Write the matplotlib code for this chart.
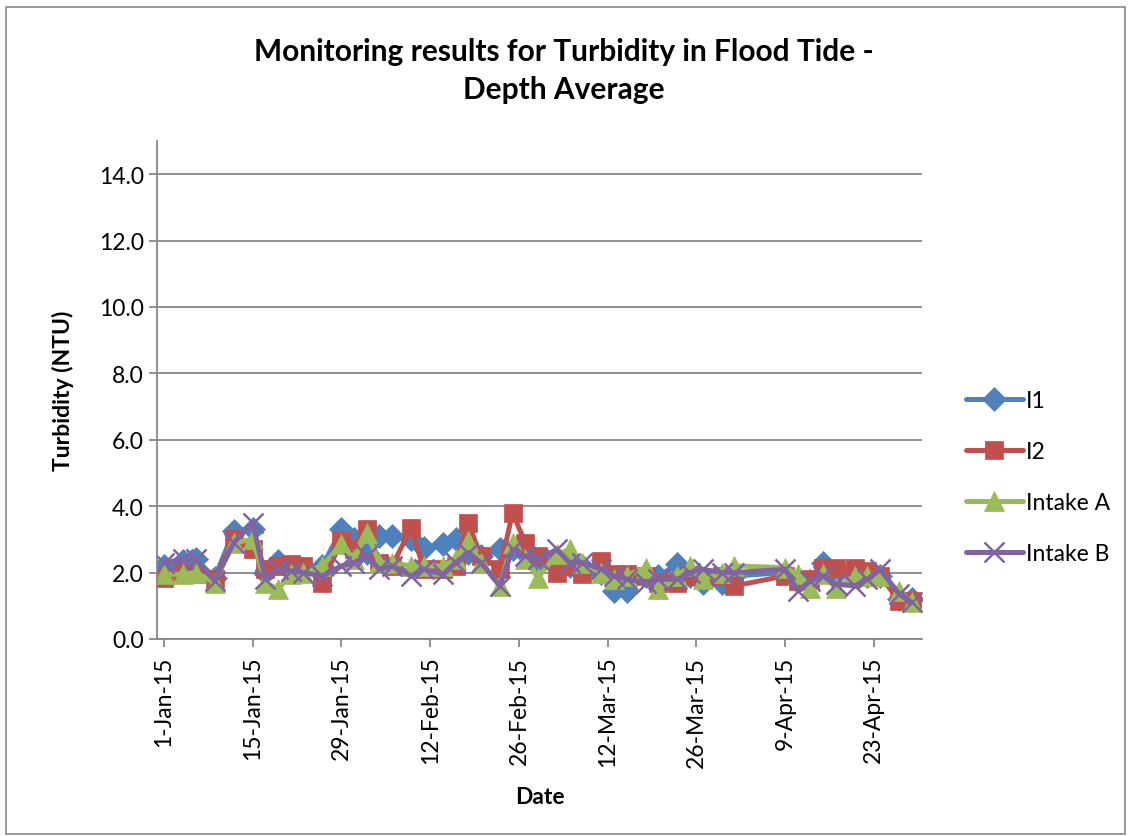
import datetime as dt
import matplotlib
matplotlib.use("Agg")
import matplotlib.pyplot as plt
import matplotlib.dates as mdates
from matplotlib.patches import Rectangle

# sampling days, counted from 1-Jan-2015
days = [0, 3, 5, 8, 11, 14, 16, 18, 20, 22, 25, 28, 30, 32, 34, 36, 39, 41, 44, 46,
        48, 50, 53, 55, 57, 59, 62, 64, 66, 69, 71, 73, 76, 78, 81, 83, 85, 88, 90,
        98, 100, 102, 104, 106, 109, 111, 113, 116, 118]

i1 = [2.2, 2.35, 2.4, 1.85, 3.25, 3.3, 2.0, 2.35, 2.1, 2.1, 2.2, 3.3, 3.0, 2.6, 3.1, 3.1,
      3.0, 2.75, 2.85, 3.0, 2.6, 2.5, 2.7, 2.7, 2.6, 2.3, 2.3, 2.2, 2.2, 2.0, 1.45, 1.45,
      1.9, 1.9, 2.25, 1.9, 1.7, 1.7, 1.9, 2.0, 1.8, 1.75, 2.3, 2.0, 1.9, 1.9, 1.9, 1.2, 1.2]
i2 = [1.85, 2.0, 1.95, 1.8, 3.0, 2.7, 2.1, 2.2, 2.25, 2.2, 1.7, 2.95, 2.7, 3.3, 2.3, 2.2,
      3.35, 2.1, 2.1, 2.2, 3.5, 2.5, 2.1, 3.8, 2.9, 2.5, 2.0, 2.2, 1.95, 2.35, 1.95, 1.95,
      1.9, 1.7, 1.7, 1.9, 1.85, 1.9, 1.6, 1.9, 1.75, 1.8, 2.15, 2.15, 2.15, 2.05, 1.9, 1.15, 1.15]
intake_a = [1.95, 1.95, 2.0, 1.7, 2.9, 3.0, 1.7, 1.5, 1.95, 2.0, 2.2, 2.85, 2.4, 3.2, 2.3, 2.3,
            2.2, 2.2, 2.2, 2.4, 2.95, 2.3, 1.6, 2.9, 2.4, 1.85, 2.55, 2.7, 2.3, 2.0, 1.8, 1.9,
            2.15, 1.5, 1.9, 2.2, 1.8, 2.0, 2.2, 2.15, 1.95, 1.55, 1.95, 1.55, 1.9, 1.9, 1.9, 1.45, 1.1]
intake_b = [2.3, 2.4, 2.4, 1.75, 2.9, 3.5, 1.8, 2.1, 2.05, 2.0, 1.9, 2.2, 2.3, 2.5, 2.1, 2.2,
            1.9, 2.1, 1.95, 2.3, 2.6, 2.3, 1.6, 2.7, 2.5, 2.4, 2.7, 2.3, 2.3, 2.1, 1.9, 1.8,
            1.7, 1.8, 1.8, 2.0, 2.1, 2.0, 2.0, 2.1, 1.45, 1.75, 1.9, 1.65, 1.6, 1.8, 2.1, 1.35, 1.1]

start = dt.date(2015, 1, 1)
dates = [start + dt.timedelta(days=d) for d in days]
tick_dates = [start + dt.timedelta(days=14 * k) for k in range(9)]

series = [
    ("I1", i1, "#4F81BD", "D", 12),
    ("I2", i2, "#C0504D", "s", 13),
    ("Intake A", intake_a, "#9BBB59", "^", 15),
    ("Intake B", intake_b, "#8064A2", "x", 14),
]

plt.rcParams["font.family"] = ["Lato", "DejaVu Sans"]

fig = plt.figure(figsize=(11.28, 8.37), dpi=100)
ax = fig.add_axes([157 / 1128, 1 - 640 / 837, (922 - 157) / 1128, (640 - 142) / 837])

for name, vals, col, mk, ms in series:
    ax.plot(dates, vals, color=col, lw=3.6, marker=mk, markersize=ms,
            markeredgewidth=1.8 if mk == "x" else 0.5, markeredgecolor=col,
            label=name, solid_joinstyle="round", solid_capstyle="round")

ax.set_ylim(0, 15)
ax.set_yticks([0, 2, 4, 6, 8, 10, 12, 14])
ax.yaxis.set_major_formatter(plt.FormatStrFormatter("%.1f"))
ax.set_xlim(mdates.date2num(start) - 1.1, mdates.date2num(start) + 119.6)
ax.set_xticks(tick_dates)
ax.set_xticklabels([f"{d.day}-{d.strftime('%b-%y')}" for d in tick_dates], rotation=90)

ax.grid(axis="y", color="#878787", lw=1.3)
ax.set_axisbelow(True)
for s in ["top", "right"]:
    ax.spines[s].set_visible(False)
for s in ["left", "bottom"]:
    ax.spines[s].set_color("#878787")
    ax.spines[s].set_linewidth(1.3)
ax.tick_params(axis="both", colors="#878787", labelcolor="black", labelsize=16.5,
               length=6, width=1.3)
ax.tick_params(axis="x", pad=6)

ax.set_ylabel("Turbidity (NTU)", fontsize=16.5, fontweight="bold", labelpad=18)
ax.set_xlabel("Date", fontsize=16.5, fontweight="bold", labelpad=14)

fig.text(0.5, 1 - 71 / 837, "Monitoring results for Turbidity in Flood Tide -\nDepth Average",
         ha="center", va="center", fontsize=21.5, fontweight="bold", linespacing=1.4)

ax.legend(loc="center left", bbox_to_anchor=(1.045, 0.325), frameon=False, fontsize=16.5,
          handlelength=2.5, labelspacing=1.3, handletextpad=0.15, borderaxespad=0)

fig.patches.append(Rectangle((6 / 1128, 2 / 837), 1119 / 1128, 827 / 837, transform=fig.transFigure,
                             fill=False, edgecolor="#878787", lw=1.2))

fig.savefig("out.png", dpi=100)
